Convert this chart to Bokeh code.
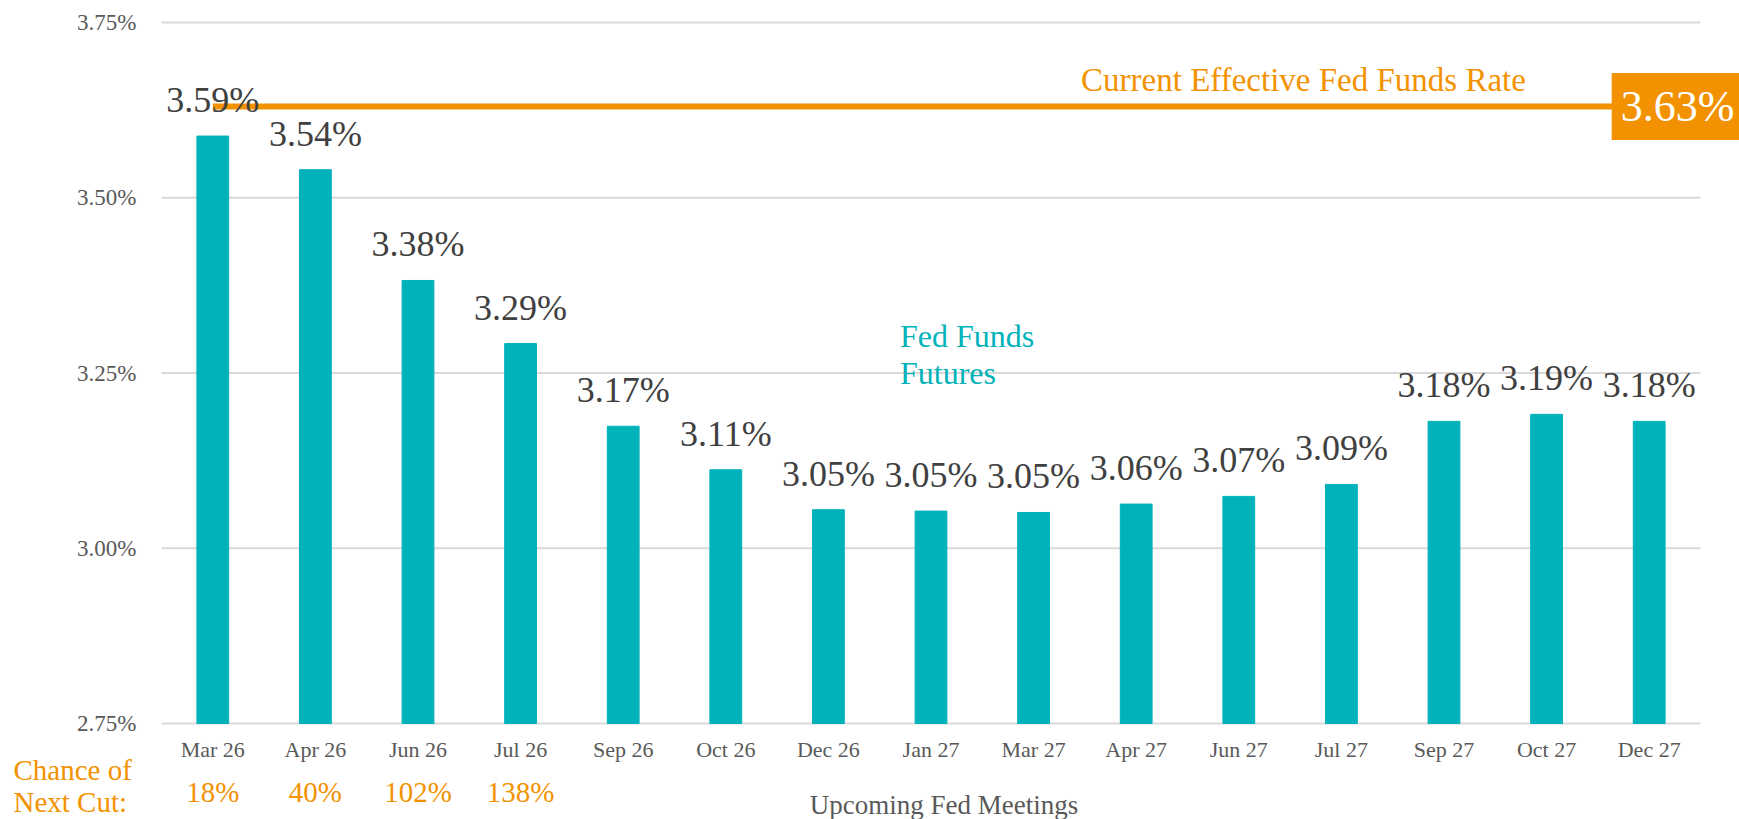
from bokeh.plotting import figure
from bokeh.models import (Range1d, ColumnDataSource, LabelSet, Label, LinearAxis,
                          FixedTicker, PrintfTickFormatter)
from bokeh.core.properties import value
from bokeh.embed import file_html
from bokeh.resources import INLINE

# ---- data ----
meetings = ["Mar 26", "Apr 26", "Jun 26", "Jul 26", "Sep 26", "Oct 26", "Dec 26", "Jan 27",
            "Mar 27", "Apr 27", "Jun 27", "Jul 27", "Sep 27", "Oct 27", "Dec 27"]
futures = [3.588, 3.54, 3.382, 3.292, 3.174, 3.112, 3.055, 3.053, 3.051, 3.063, 3.074,
           3.091, 3.181, 3.191, 3.181]
futures_labels = ["3.59%", "3.54%", "3.38%", "3.29%", "3.17%", "3.11%", "3.05%", "3.05%",
                  "3.05%", "3.06%", "3.07%", "3.09%", "3.18%", "3.19%", "3.18%"]
effective_rate = 3.63
effective_label = "3.63%"
chance_of_cut = ["18%", "40%", "102%", "138%"]
y_ticks = [2.75, 3.00, 3.25, 3.50, 3.75]

TEAL = "#00B2BA"
ORANGE = "#F39200"
GRAY = "#595959"
DARK = "#404040"
SERIF = "Liberation Serif"

# ---- layout (pixels) ----
W, H = 1739, 819
PLOT_LEFT, PLOT_RIGHT, PLOT_TOP, PLOT_BOTTOM = 161, 1700, 22, 723
n = len(meetings)
px_per_cat = (PLOT_RIGHT - PLOT_LEFT) / n
y_lo, y_hi = y_ticks[0], y_ticks[-1]
px_per_y = (PLOT_BOTTOM - PLOT_TOP) / (y_hi - y_lo)

x_range = Range1d(-PLOT_LEFT / px_per_cat, n + (W - PLOT_RIGHT) / px_per_cat)
y_range = Range1d(y_lo - (H - PLOT_BOTTOM) / px_per_y, y_hi + PLOT_TOP / px_per_y)

p = figure(width=W, height=H, x_range=x_range, y_range=y_range,
           x_axis_type=None, y_axis_type=None, title=None,
           min_border=0, min_border_left=0, min_border_right=0,
           min_border_top=0, min_border_bottom=0,
           output_backend="svg", toolbar_location=None,
           background_fill_color="white", border_fill_color="white")
p.outline_line_color = None
p.xgrid.visible = False
p.ygrid.visible = False

xpos = [i + 0.5 for i in range(n)]
src = ColumnDataSource(dict(x=xpos, m=meetings, v=futures, lab=futures_labels))

# horizontal gridlines over the category span
p.segment(x0=0, x1=n, y0=y_ticks, y1=y_ticks, line_color="#D9D9D9", line_width=2)

p.vbar(x="x", top="v", bottom=y_lo, width=0.31, color=TEAL, source=src)

# current effective rate line (from first meeting to the right)
p.segment(x0=xpos[0], x1=n, y0=effective_rate, y1=effective_rate,
          line_color=ORANGE, line_width=6)

# axes placed at the category span edges
yax = LinearAxis(fixed_location=0, ticker=FixedTicker(ticks=y_ticks),
                 formatter=PrintfTickFormatter(format="%.2f%%"))
xax = LinearAxis(fixed_location=y_lo, ticker=FixedTicker(ticks=xpos),
                 major_label_overrides={x: m for x, m in zip(xpos, meetings)})
for ax in (xax, yax):
    ax.axis_line_color = None
    ax.major_tick_line_color = None
    ax.minor_tick_line_color = None
    ax.major_tick_in = 0
    ax.major_tick_out = 0
    ax.minor_tick_in = 0
    ax.minor_tick_out = 0
    ax.major_label_text_font = SERIF
    ax.major_label_text_color = GRAY
    ax.major_label_text_font_size = "22px"
yax.major_label_text_font_size = "23px"
yax.major_label_standoff = 25
xax.major_label_standoff = 13
p.add_layout(yax, "left")
p.add_layout(xax, "below")

# bar value labels
p.add_layout(LabelSet(x="x", y="v", text="lab", source=src, y_offset=24,
                      text_align="center", text_baseline="alphabetic",
                      text_font=value(SERIF), text_font_size=value("36px"),
                      text_color=DARK))

# chance of next cut
csrc = ColumnDataSource(dict(x=xpos[:len(chance_of_cut)], t=chance_of_cut))
p.add_layout(LabelSet(x="x", y=y_lo, text="t", source=csrc, y_offset=-78,
                      text_align="center", text_baseline="alphabetic",
                      text_font=value(SERIF), text_font_size=value("29px"),
                      text_color=ORANGE))
p.add_layout(Label(x=0, y=y_lo, x_offset=-148, y_offset=-46, text="Chance of",
                   text_align="left", text_baseline="alphabetic", text_font=SERIF,
                   text_font_size="29px", text_color=ORANGE))
p.add_layout(Label(x=0, y=y_lo, x_offset=-148, y_offset=-78, text="Next Cut:",
                   text_align="left", text_baseline="alphabetic", text_font=SERIF,
                   text_font_size="29px", text_color=ORANGE))

# x axis title
p.add_layout(Label(x=n / 2, y=y_lo, x_offset=13, y_offset=-81,
                   text="Upcoming Fed Meetings", text_align="center",
                   text_baseline="alphabetic", text_font=SERIF, text_font_size="27px",
                   text_color=GRAY))

# current effective rate annotations
p.add_layout(Label(x=n, y=effective_rate, x_offset=-397, y_offset=27,
                   text="Current Effective Fed Funds Rate", text_align="center",
                   text_baseline="alphabetic", text_font=SERIF, text_font_size="33px",
                   text_color=ORANGE))
p.add_layout(Label(x=n, y=effective_rate, x_offset=-23, y_offset=0,
                   text=effective_label, text_align="center", text_baseline="middle",
                   text_font=SERIF, text_font_size="44px", text_color="white",
                   background_fill_color=ORANGE, padding=9))

# series label
p.add_layout(Label(x=n / 2, y=3.25, x_offset=-31, y_offset=37,
                   text="Fed Funds", text_align="left", text_baseline="alphabetic",
                   text_font=SERIF, text_font_size="32px", text_color=TEAL))
p.add_layout(Label(x=n / 2, y=3.25, x_offset=-31, y_offset=0,
                   text="Futures", text_align="left", text_baseline="alphabetic",
                   text_font=SERIF, text_font_size="32px", text_color=TEAL))

open("out.html", "w").write(file_html(p, INLINE))
